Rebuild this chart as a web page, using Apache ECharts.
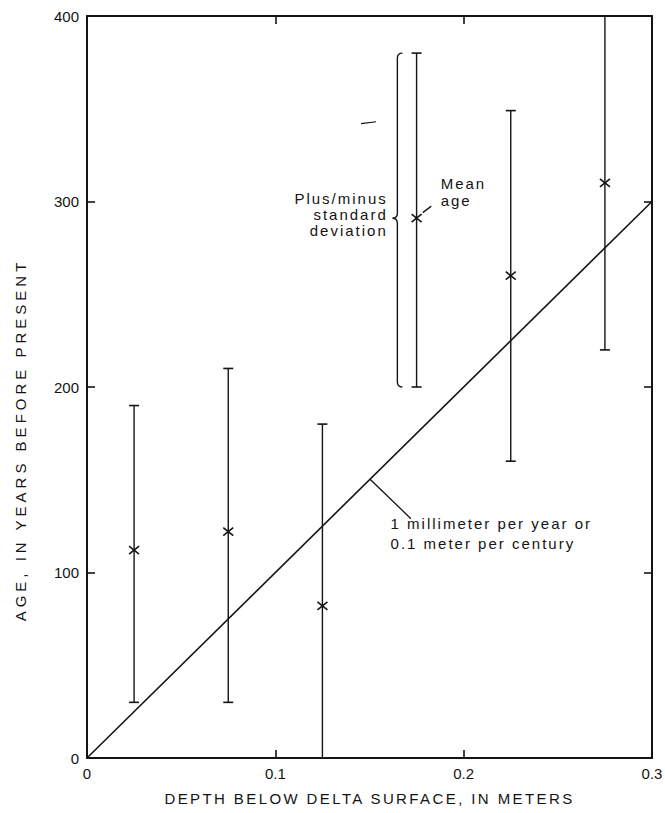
<!DOCTYPE html>
<html>
<head>
<meta charset="utf-8">
<script src="https://cdn.jsdelivr.net/npm/echarts@6/dist/echarts.min.js"></script>
<style>
    html, body { margin: 0; padding: 0; background: #fff; }
    #chart { width: 665px; height: 813px; }
</style>
</head>
<body>
<div id="chart"></div>
<script>
    // samples: depth (m) and radiocarbon age (years), mean +/- one std dev
    var depths = [0.025, 0.075, 0.125, 0.175, 0.225, 0.275];
    var meanAges = [112, 122, 82, 291, 260, 310];
    var lowAges = [30, 30, 0, 200, 160, 220];
    var highAges = [190, 210, 180, 380, 349, 400];
    // 1 mm per year reference line
    var rateLine = [[0, 0], [0.3, 300]];
    var xTicks = [0, 0.1, 0.2, 0.3];
    var yTicks = [0, 100, 200, 300, 400];

    var xTitle = 'DEPTH BELOW DELTA SURFACE, IN METERS';
    var yTitle = 'AGE, IN YEARS BEFORE PRESENT';

    var ink = '#141414';
    var font = 'Liberation Sans';

    var myChart = echarts.init(document.getElementById('chart'), null, { renderer: 'svg' });

    function barItem(params, api) {
        var x = api.value(0), lo = api.value(1), hi = api.value(2);
        var p1 = api.coord([x, lo]);
        var p2 = api.coord([x, hi]);
        var kids = [{
            type: 'line',
            shape: { x1: p1[0], y1: p1[1], x2: p2[0], y2: p2[1] },
            style: { stroke: ink, lineWidth: 1.4 }
        }];
        var cap = 5;
        if (lo > 0) {
            kids.push({ type: 'line', shape: { x1: p1[0] - cap, y1: p1[1], x2: p1[0] + cap, y2: p1[1] }, style: { stroke: ink, lineWidth: 1.6 } });
        }
        if (hi < 400) {
            kids.push({ type: 'line', shape: { x1: p2[0] - cap, y1: p2[1], x2: p2[0] + cap, y2: p2[1] }, style: { stroke: ink, lineWidth: 1.6 } });
        }
        return { type: 'group', children: kids };
    }

    function crossItem(params, api) {
        var p = api.coord([api.value(0), api.value(1)]);
        var w = 5, h = 4;
        return {
            type: 'group',
            children: [
                { type: 'line', shape: { x1: p[0] - w, y1: p[1] - h, x2: p[0] + w, y2: p[1] + h }, style: { stroke: ink, lineWidth: 1.6 } },
                { type: 'line', shape: { x1: p[0] - w, y1: p[1] + h, x2: p[0] + w, y2: p[1] - h }, style: { stroke: ink, lineWidth: 1.6 } }
            ]
        };
    }

    // callouts, placed in data units so they follow the axes
    function noteItem(params, api) {
        var c = function (x, y) { return api.coord([x, y]); };
        var kids = [];
        // curly brace spanning the std dev of the 0.175 m sample
        var top = c(0.1648, 380), mid = c(0.1648, 291), bot = c(0.1648, 200);
        var bx = top[0], r = 5;
        var path = 'M' + (bx + r) + ' ' + top[1] +
            ' Q' + bx + ' ' + top[1] + ' ' + bx + ' ' + (top[1] + r) +
            ' L' + bx + ' ' + (mid[1] - r) +
            ' Q' + bx + ' ' + mid[1] + ' ' + (bx - r) + ' ' + mid[1] +
            ' Q' + bx + ' ' + mid[1] + ' ' + bx + ' ' + (mid[1] + r) +
            ' L' + bx + ' ' + (bot[1] - r) +
            ' Q' + bx + ' ' + bot[1] + ' ' + (bx + r) + ' ' + bot[1];
        kids.push({ type: 'path', shape: { pathData: path }, style: { stroke: ink, fill: null, lineWidth: 1.4 } });

        var pm = c(0.1597, 293);
        kids.push({ type: 'text', x: pm[0], y: pm[1], style: {
            text: 'Plus/minus\nstandard\ndeviation', font: '15px "' + font + '"', fill: ink,
            align: 'right', verticalAlign: 'middle', lineHeight: 16
        } });

        var ma = c(0.1878, 305);
        kids.push({ type: 'text', x: ma[0], y: ma[1], style: {
            text: 'Mean\nage', font: '15px "' + font + '"', fill: ink, align: 'left', verticalAlign: 'middle', lineHeight: 17
        } });
        var a1 = c(0.1828, 297.5), a2 = c(0.1783, 294);
        kids.push({ type: 'line', shape: { x1: a1[0], y1: a1[1], x2: a2[0], y2: a2[1] }, style: { stroke: ink, lineWidth: 1.3 } });

        var l1 = c(0.1503, 150.3), l2 = c(0.172, 129);
        kids.push({ type: 'line', shape: { x1: l1[0], y1: l1[1], x2: l2[0], y2: l2[1] }, style: { stroke: ink, lineWidth: 1.3 } });
        var lt = c(0.1612, 121);
        kids.push({ type: 'text', x: lt[0], y: lt[1], style: {
            text: '1 millimeter per year or\n0.1 meter per century', font: '15px "' + font + '"', fill: ink,
            align: 'left', verticalAlign: 'middle', lineHeight: 20
        } });

        // stray mark in the original
        var s1 = c(0.1455, 342), s2 = c(0.1535, 343);
        kids.push({ type: 'line', shape: { x1: s1[0], y1: s1[1], x2: s2[0], y2: s2[1] }, style: { stroke: ink, lineWidth: 1.2 } });
        return { type: 'group', children: kids };
    }

    var barData = depths.map(function (d, i) { return [d, lowAges[i], highAges[i]]; });
    var meanData = depths.map(function (d, i) { return [d, meanAges[i]]; });

    var tickStyle = { show: true, inside: true, length: 8, lineStyle: { color: ink, width: 1.6 } };
    var frameLine = { show: true, onZero: false, lineStyle: { color: ink, width: 2 } };

    myChart.setOption({
        backgroundColor: '#fff',
        animation: false,
        grid: { left: 87, right: 13, top: 16, bottom: 55, containLabel: false, outerBoundsMode: 'none' },
        graphic: [{
            type: 'text', x: 20, y: 440, rotation: Math.PI / 2,
            style: {
                text: yTitle, font: '15px "' + font + '"', fill: ink,
                align: 'center', verticalAlign: 'middle'
            }
        }],
        xAxis: [{
            type: 'value', min: 0, max: 0.3, interval: 0.1, position: 'bottom',
            axisLine: frameLine, axisTick: tickStyle, splitLine: { show: false },
            axisLabel: {
                color: ink, fontSize: 15, fontFamily: font, margin: 8,
                formatter: function (v) { return v === 0 ? '0' : v.toFixed(1); }
            },
            name: xTitle, nameLocation: 'middle', nameGap: 33,
            nameTextStyle: { color: ink, fontSize: 15, fontFamily: font }
        }, {
            type: 'value', min: 0, max: 0.3, interval: 0.1, position: 'top',
            axisLine: frameLine, axisTick: tickStyle, splitLine: { show: false }, axisLabel: { show: false }
        }],
        yAxis: [{
            type: 'value', min: 0, max: 400, interval: 100, position: 'left',
            axisLine: frameLine, axisTick: tickStyle, splitLine: { show: false },
            axisLabel: { color: ink, fontSize: 15, fontFamily: font, margin: 8 }
        }, {
            type: 'value', min: 0, max: 400, interval: 100, position: 'right',
            axisLine: frameLine, axisTick: tickStyle, splitLine: { show: false }, axisLabel: { show: false }
        }],
        series: [{
            type: 'line',
            data: rateLine,
            symbol: 'none',
            lineStyle: { color: ink, width: 1.6 },
            silent: true
        }, {
            type: 'custom',
            renderItem: barItem,
            data: barData,
            silent: true
        }, {
            type: 'custom',
            renderItem: crossItem,
            data: meanData,
            silent: true
        }, {
            type: 'custom',
            renderItem: noteItem,
            data: [[0, 0]],
            silent: true,
            clip: false
        }, {
            // keeps the top and right frame axes alive
            type: 'line',
            xAxisIndex: 1,
            yAxisIndex: 1,
            data: [],
            silent: true
        }]
    });

    // the scanned lettering is widely tracked; widen the svg text to match
    function trackText() {
        var nodes = document.querySelectorAll('#chart svg text');
        for (var i = 0; i < nodes.length; i++) {
            var t = nodes[i].textContent;
            if (/^[0-9.]+$/.test(t)) continue;
            if (t === xTitle) nodes[i].style.letterSpacing = '2.4px';
            else if (t === yTitle) nodes[i].style.letterSpacing = '4px';
            else nodes[i].style.letterSpacing = '2px';
        }
    }
    trackText();
    myChart.on('finished', trackText);
</script>
</body>
</html>
